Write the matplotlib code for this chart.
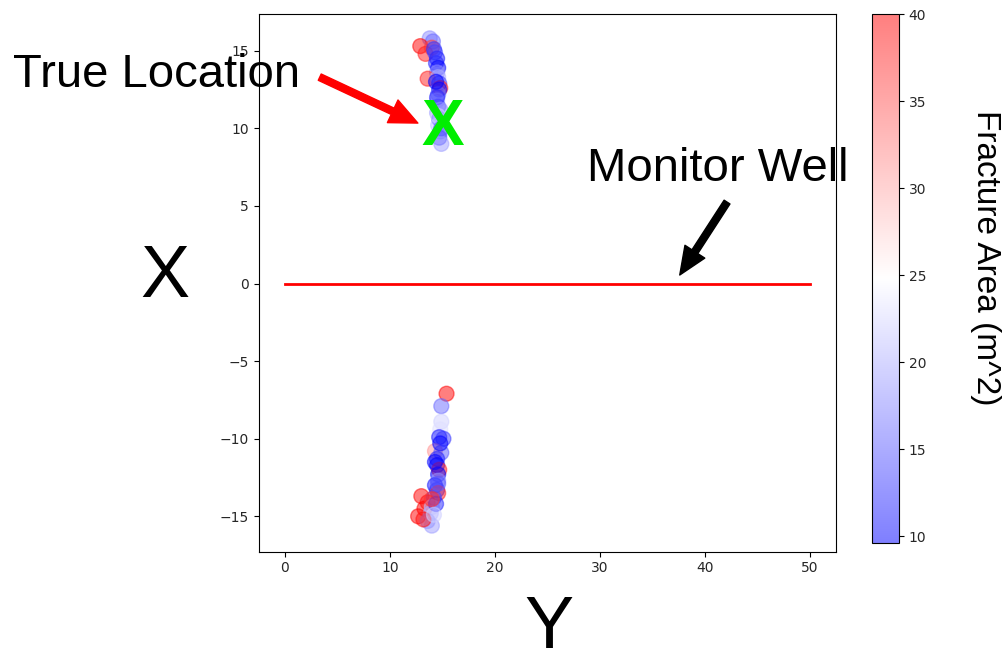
import matplotlib
matplotlib.use("Agg")
import matplotlib.pyplot as plt
import numpy as np

# Event locations: horizontal coordinate (Y), vertical coordinate (X), fracture area
events_y = [13.8, 14.1, 12.9, 14.0, 13.4, 14.3, 14.5, 14.4, 14.6, 14.5, 13.6, 14.6,
            14.7, 14.8, 14.7, 14.6, 14.5, 14.6, 14.5, 14.7, 14.6, 14.8, 14.7, 14.9,
            14.2, 14.4, 14.5, 14.8, 14.6, 14.9,
            15.4, 14.9, 14.9, 14.8, 14.7, 15.1, 14.3, 14.9, 14.5, 14.5, 14.7, 14.6,
            14.6, 14.3, 14.5, 14.6, 13.0, 14.2, 13.6, 13.3, 14.0, 12.7, 13.9, 13.6,
            14.0, 13.2, 14.4, 14.3, 14.6, 14.0, 14.8, 14.2]
events_x = [15.8, 15.6, 15.3, 15.2, 14.8, 14.9, 14.5, 14.2, 13.9, 13.6, 13.2, 13.3,
            12.9, 12.6, 12.5, 12.2, 11.8, 11.4, 11.0, 10.6, 10.2, 9.8, 9.4, 9.0,
            15.1, 13.0, 12.0, 11.2, 10.8, 10.0,
            -7.1, -7.9, -8.9, -9.4, -9.9, -10.0, -10.8, -10.9, -11.3, -11.7, -12.0, -12.3,
            -12.7, -13.0, -13.3, -13.5, -13.7, -13.8, -14.1, -14.5, -14.4, -15.0, -14.8, -15.3,
            -15.6, -15.2, -14.2, -11.5, -12.9, -13.9, -10.3, -14.9]
fracture_area = [18, 16, 40, 36, 38, 14, 11, 12, 10, 18, 38, 20,
                 14, 38, 10, 16, 20, 15, 19, 13, 21, 17, 14, 19,
                 13, 9.8, 12, 18, 22, 15,
                 40, 16, 22, 23, 11, 13, 31, 15, 12, 10, 38, 9.6,
                 18, 11, 12, 38, 40, 14, 39, 40, 21, 40, 20, 18,
                 19, 39, 12, 10, 15, 37, 10, 22]

# Monitor well trace and true source location
well_y = [0, 50]
well_x = [0, 0]
true_loc = (15, 10)

x_ticks = [-15, -10, -5, 0, 5, 10, 15]
y_ticks = [0, 10, 20, 30, 40, 50]
cbar_ticks = [10, 15, 20, 25, 30, 35, 40]

W, H = 1006, 649
fig = plt.figure(figsize=(W / 100, H / 100), dpi=100)
ax = fig.add_axes([258.5 / W, 1 - 551.7 / H, (836.3 - 258.5) / W, (551.7 - 14.3) / H])
cax = fig.add_axes([872 / W, 1 - 543 / H, 27 / W, 529 / H])

sc = ax.scatter(events_y, events_x, c=fracture_area, cmap="bwr", s=115, alpha=0.5,
                vmin=min(fracture_area), vmax=max(fracture_area))
ax.plot(well_y, well_x, color="red", lw=2)

ax.set_xlim(-2.5, 52.5)
ax.set_ylim(-17.28, 17.35)
ax.set_xticks(y_ticks)
ax.set_yticks(x_ticks)
ax.tick_params(labelcolor="#262626")

ax.text(true_loc[0], true_loc[1], "X", color="#00ee00", fontsize=46, fontweight="bold",
        family="Liberation Sans", ha="center", va="center", zorder=4)

cb = fig.colorbar(sc, cax=cax, ticks=cbar_ticks)
cb.ax.tick_params(labelcolor="#262626")
cb.set_label("Fracture Area (m^2)", rotation=270, fontsize=24, family="Liberation Sans",
             va="center")
cb.ax.yaxis.set_label_coords(4.2, 0.54)

font = dict(family="Liberation Sans", color="black", zorder=2)
ax.text(13 / W, 1 - 87 / H, "True Location", transform=fig.transFigure, fontsize=34,
        ha="left", va="baseline", **font)
ax.text(587 / W, 1 - 181 / H, "Monitor Well", transform=fig.transFigure, fontsize=34,
        ha="left", va="baseline", **font)
fig.text(165 / W, 1 - 277 / H, "X", fontsize=53, ha="center", va="center",
         family="Liberation Sans")
fig.text(549 / W, 1 - 648 / H, "Y", fontsize=53, ha="center", va="baseline",
         family="Liberation Sans")

ax.annotate("", xy=(12.67, 10.34), xytext=(3.33, 13.3), annotation_clip=False,
            arrowprops=dict(facecolor="red", edgecolor="red", width=5, headwidth=18,
                            headlength=20, shrink=0))
ax.annotate("", xy=(37.6, 0.55), xytext=(42.1, 5.25), annotation_clip=False,
            arrowprops=dict(facecolor="black", edgecolor="black", width=5, headwidth=17,
                            headlength=20, shrink=0))

fig.savefig("out.png", dpi=100)
